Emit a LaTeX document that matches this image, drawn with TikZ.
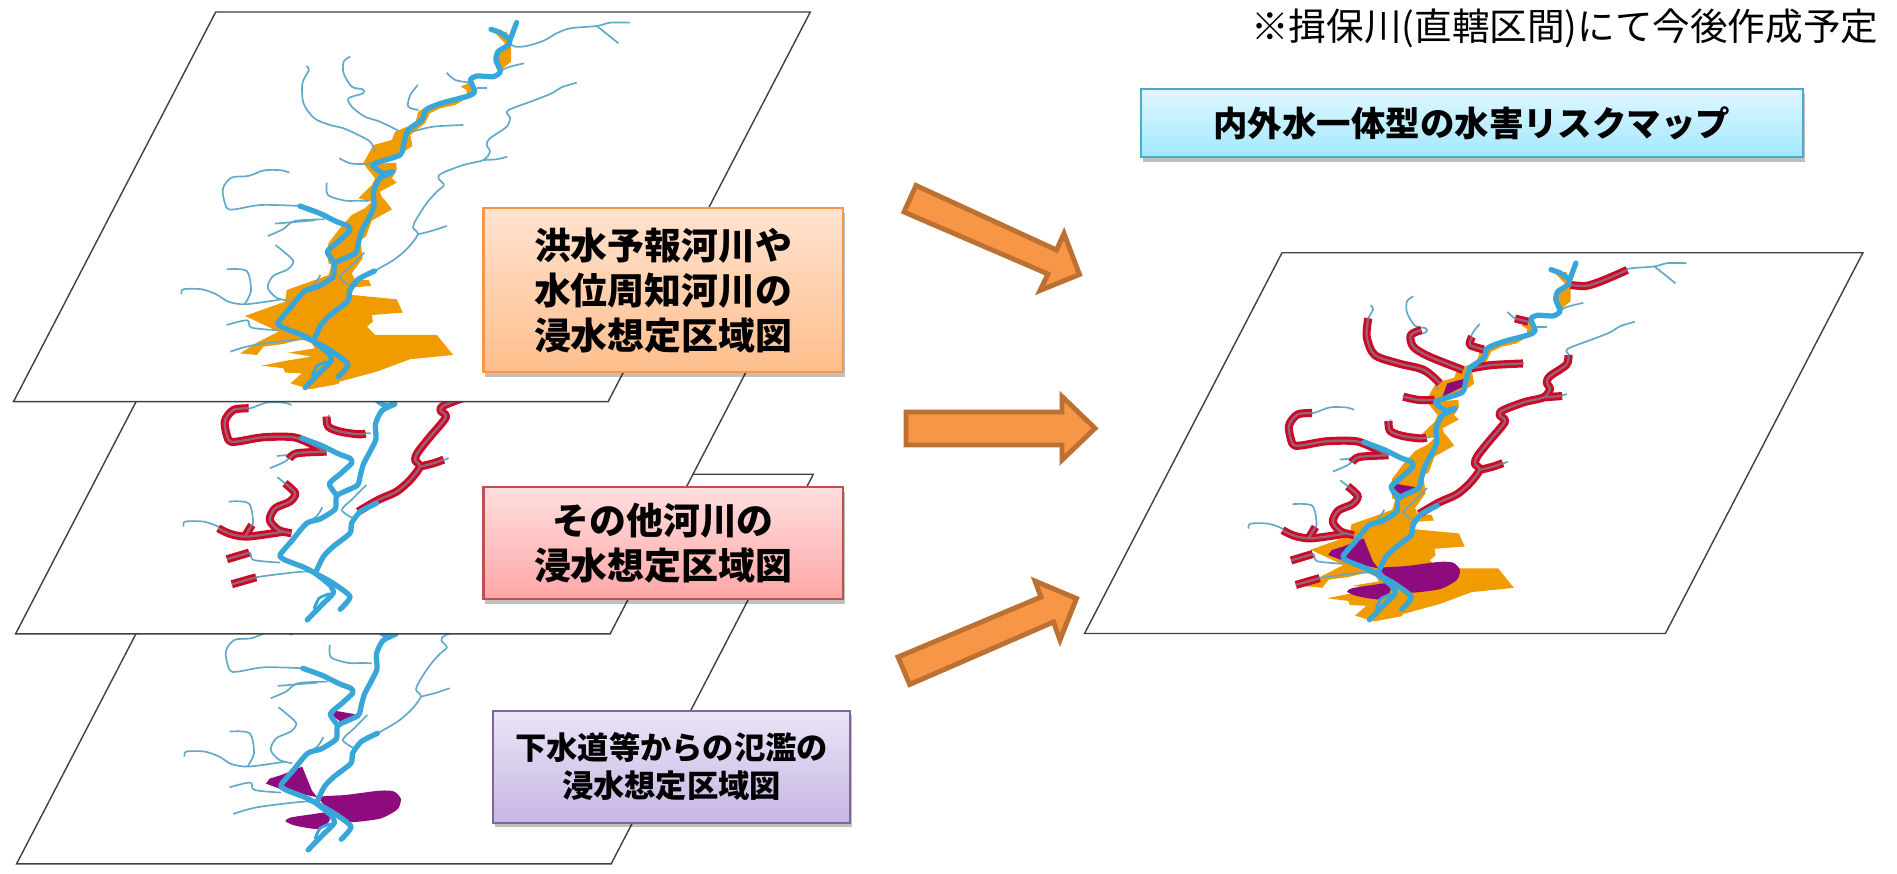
\documentclass[tikz,border=0pt]{standalone}
\usepackage{fontspec}
\setmainfont{Noto Sans CJK JP}
\usetikzlibrary{shadows}
\definecolor{riverblue}{HTML}{38A6D8}
\definecolor{thinblue}{HTML}{62A8CA}
\definecolor{floodorange}{HTML}{F09B00}
\definecolor{floodpurple}{HTML}{8E0B7E}
\definecolor{bankred}{HTML}{CC0A26}
\definecolor{bankcore}{HTML}{9A6078}
\definecolor{arrowfill}{HTML}{F79646}
\definecolor{arrowedge}{HTML}{BC7032}
\definecolor{orangetop}{HTML}{FFE3D0}
\definecolor{orangelow}{HTML}{FFBE8C}
\definecolor{redtop}{HTML}{FFDEDE}
\definecolor{redlow}{HTML}{FFA6A6}
\definecolor{rededge}{HTML}{C0504D}
\definecolor{purpletop}{HTML}{EBE5F6}
\definecolor{purplelow}{HTML}{C6B6E4}
\definecolor{purpleedge}{HTML}{8064A2}
\definecolor{bluetop}{HTML}{DFF7FF}
\definecolor{bluelow}{HTML}{A3E8FF}
\definecolor{blueedge}{HTML}{4BACC6}
\tikzset{
  layer/.style={xscale=0.542,yscale=0.3333},
  lastlayer/.style={xscale=0.5295,yscale=0.3257},
  sheet/.style={draw=black!75,fill=white,line width=.8pt},
  thickriver/.style={draw=riverblue,line width=3pt,line join=round,line cap=round},
  thinriver/.style={draw=thinblue,line width=.95pt,line join=round},
  redband/.style={draw=bankred,line width=4.6pt,line join=round},
  redcore/.style={draw=bankcore,line width=1.3pt,line join=round},
  flowarrow/.style={draw=arrowedge,fill=arrowfill,line width=2.8pt,miter limit=10},
  labelbox/.style={line width=1.2pt,align=center,font=\bfseries,inner sep=0pt,
    drop shadow={shadow xshift=1pt,shadow yshift=-2.5pt,fill=black,opacity=.25}},
  orangebox/.style={labelbox,draw=arrowfill,top color=orangetop,bottom color=orangelow,minimum width=7.19cm,minimum height=3.28cm},
  redbox/.style={labelbox,draw=rededge,top color=redtop,bottom color=redlow,minimum width=7.19cm,minimum height=2.24cm},
  purplebox/.style={labelbox,draw=purpleedge,top color=purpletop,bottom color=purplelow,minimum width=7.14cm,minimum height=2.24cm},
  bluebox/.style={labelbox,draw=blueedge,top color=bluetop,bottom color=bluelow,minimum width=13.24cm,minimum height=1.36cm}
}
\newcommand{\sheetframe}{\draw[sheet] (398,36)--(1495,36)--(1122,1205)--(25,1205)--cycle;}
\newcommand{\orangearea}{
  \fill[floodorange] (914,100)--(935,95)--(943,140)--(943,185)--(923,212)--(916,190)--(922,150)--(932,130)--cycle;
  \fill[floodorange] (850,260)--(866,248)--(880,275)--(864,292)--(840,315)--(812,325)--(793,340)--(784,370)--(757,405)--(761,438)--(741,460)--(692,492)--(731,488)--(732,510)--(723,535)--(732,548)--(701,575)--(704,590)--(710,600)--(723,628)--(686,662)--(675,710)--(665,720)--(669,775)--(649,820)--(655,840)--(680,840)--(685,858)--(652,862)--(649,885)--(732,898)--(738,920)--(743,938)--(686,945)--(688,965)--(677,980)--(692,1005)--(806,1005)--(836,1065)--(756,1078)--(695,1115)--(627,1145)--(624,1152)--(572,1168)--(536,1150)--(557,1120)--(526,1118)--(523,1105)--(483,1097)--(529,1082)--(575,1070)--(532,1058)--(581,1045)--(575,1030)--(557,1018)--(523,1032)--(486,1040)--(474,1065)--(443,1060)--(474,1028)--(514,995)--(452,948)--(526,905)--(529,870)--(590,835)--(606,825)--(612,795)--(606,790)--(604,750)--(606,730)--(627,685)--(649,645)--(673,625)--(686,605)--(661,595)--(686,555)--(692,535)--(683,517)--(670,490)--(689,435)--(723,420)--(729,395)--(766,370)--(772,335)--(787,320)--(821,305)--(861,285)--(861,270)--cycle;
}
\newcommand{\purplearea}{
  \fill[floodpurple] (615,746)--(650,756)--(625,782)--(608,759)--cycle;
  \fill[floodpurple] (552,913)--(570,985)--(580,1005)--(520,985)--(485,964)--(492,949)--(514,938)--cycle;
  \fill[floodpurple] plot[smooth cycle,tension=.4] coordinates {(583,1005) (633,998) (696,985) (722,988) (734,1010) (728,1041) (696,1069) (640,1080) (621,1066) (602,1041)};
  \fill[floodpurple] plot[smooth cycle,tension=.4] coordinates {(599,1051) (602,1077) (580,1100) (539,1090) (521,1077) (530,1066) (570,1056)};
}
\newcommand{\thinrivers}{
  \draw[thinriver] plot[smooth,tension=.5] coordinates {(1162,68) (1126,68) (1101,78) (1052,85) (1027,100) (1003,122) (972,138) (950,140) (941,130)};
  \draw[thinriver] plot[smooth,tension=.5] coordinates {(1101,78) (1122,105) (1141,130)};
  \draw[thinriver] plot[smooth,tension=.5] coordinates {(967,190) (941,200) (926,210)};
  \draw[thinriver] plot[smooth,tension=.5] coordinates {(824,218) (840,240) (868,248)};
  \draw[thinriver] plot[smooth,tension=.5] coordinates {(899,265) (880,265)};
  \draw[thinriver] plot[smooth,tension=.5] coordinates {(1064,248) (1036,262) (1018,280) (984,302) (941,328) (935,340) (941,352) (935,380) (904,415) (898,435) (904,455) (892,480) (855,495) (815,520) (809,535) (819,555) (806,575) (787,610) (768,658) (762,683) (771,703) (753,743) (728,778) (691,813)};
  \draw[thinriver] plot[smooth,tension=.5] coordinates {(936,470) (916,478) (892,480)};
  \draw[thinriver] plot[smooth,tension=.5] coordinates {(824,678) (796,693) (771,703)};
  \draw[thinriver] plot[smooth,tension=.5] coordinates {(565,198) (570,210) (558,250) (560,310) (580,355) (609,375) (634,385) (661,405) (683,425) (692,455)};
  \draw[thinriver] plot[smooth,tension=.5] coordinates {(646,170) (634,185) (634,220) (649,260) (669,268) (670,280) (643,295) (649,320) (673,350) (701,365) (735,392)};
  \draw[thinriver] plot[smooth,tension=.5] coordinates {(771,255) (757,285) (753,320) (772,330)};
  \draw[thinriver] plot[smooth,tension=.5] coordinates {(855,375) (800,380) (760,395)};
  \draw[thinriver] plot[smooth,tension=.5] coordinates {(534,518) (519,511) (488,511) (458,528) (427,533) (411,568) (418,623) (433,628) (482,615) (553,618)};
  \draw[thinriver] plot[smooth,tension=.5] coordinates {(626,475) (646,490) (670,492) (690,490)};
  \draw[thinriver] plot[smooth,tension=.5] coordinates {(603,548) (605,585) (637,602) (661,602) (680,603)};
  \draw[thinriver] plot[smooth,tension=.5] coordinates {(494,708) (522,688) (544,663) (599,658)};
  \draw[thinriver] plot[smooth,tension=.5] coordinates {(507,671) (581,661)};
  \draw[thinriver] plot[smooth,tension=.5] coordinates {(508,735) (522,753) (541,783) (531,808) (504,828) (494,863) (510,893) (534,903)};
  \draw[thinriver] plot[smooth,tension=.5] coordinates {(418,808) (455,813) (463,873) (451,913)};
  \draw[thinriver] plot[smooth,tension=.5] coordinates {(335,883) (338,868) (372,868) (399,883) (421,905) (451,913) (501,903) (519,898)};
  \draw[thinriver] plot[smooth,tension=.5] coordinates {(418,975) (456,961) (464,983) (513,991)};
  \draw[thinriver] plot[smooth,tension=.5] coordinates {(425,1055) (469,1035) (556,1018) (574,1025)};
  \draw[thinriver] plot[smooth,tension=.5] coordinates {(672,758) (648,798) (627,833) (648,858)};
  \draw[thinriver] plot[smooth,tension=.5] coordinates {(591,825) (581,851) (562,873)};
}
\newcommand{\redlines}[1]{
  \draw[#1] plot[smooth,tension=.5] coordinates {(1050,89) (1003,122) (972,138) (943,135)}
    plot[smooth,tension=.5] coordinates {(838,238) (863,248)}
    plot[smooth,tension=.5] coordinates {(757,294) (753,319) (779,333)}
    plot[smooth,tension=.5] coordinates {(661,273) (641,289) (646,325) (676,355) (740,396)}
    plot[smooth,tension=.5] coordinates {(561,237) (558,294) (573,350) (618,376) (666,396) (696,437)}
    plot[smooth,tension=.5] coordinates {(755,391) (794,381) (853,376)}
    plot[smooth,tension=.5] coordinates {(939,350) (935,380) (904,415) (898,435) (904,455) (892,480) (855,495) (815,520) (809,535) (819,555) (790,613) (768,658) (762,683) (771,703) (753,743) (728,778) (694,803) (657,838)}
    plot[smooth,tension=.5] coordinates {(771,703) (796,693) (815,682)}
    plot[smooth,tension=.5] coordinates {(892,480) (927,476)}
    plot[smooth,tension=.5] coordinates {(455,528) (427,533) (411,568) (418,623) (433,628) (482,615) (538,615) (574,638) (596,658)}
    plot[smooth,tension=.5] coordinates {(530,680) (544,663) (599,658)}
    plot[smooth,tension=.5] coordinates {(599,553) (602,583) (624,598) (657,606) (671,604)}
    plot[smooth,tension=.5] coordinates {(627,478) (656,488) (686,488)}
    plot[smooth,tension=.5] coordinates {(522,753) (541,783) (531,808) (504,828) (494,863) (510,893) (534,903)}
    plot[smooth,tension=.5] coordinates {(399,888) (421,905) (451,913) (501,903) (519,898)}
    plot[smooth,tension=.5] coordinates {(461,878) (448,913)}
    plot[smooth,tension=.5] coordinates {(415,981) (456,961)}
    plot[smooth,tension=.5] coordinates {(424,1056) (469,1035)};
}
\newcommand{\thickrivers}{
  \draw[thickriver] plot[smooth,tension=.4] coordinates {(953,68) (941,120) (938,135) (919,155) (915,180) (923,215) (910,230) (880,228) (868,240) (876,275) (864,288) (818,308) (787,328) (778,360) (753,390) (745,430) (738,465) (692,490) (689,500) (707,520) (725,515) (701,535) (689,575) (690,620) (680,655) (667,695) (661,730) (655,760) (618,790) (615,830) (587,860) (562,873) (535,925) (513,968) (522,983) (557,1005) (578,1023) (611,1053) (642,1093) (624,1131)};
  \draw[thickriver] plot[smooth,tension=.4] coordinates {(578,1023) (606,1060) (611,1083) (593,1113) (563,1163)};
  \draw[thickriver,line width=1.6pt] plot[smooth,tension=.4] coordinates {(603,1085) (585,1098) (576,1128)};
  \draw[thickriver] plot[smooth,tension=.4] coordinates {(553,618) (590,640) (621,665) (642,678) (645,693) (624,725) (604,755) (618,790)};
  \draw[thickriver] plot[smooth,tension=.4] coordinates {(906,88) (923,98) (938,115)};
  \draw[thickriver] plot[smooth,tension=.4] coordinates {(691,813) (661,838) (645,873) (642,903) (611,943) (593,973) (578,1023)};
}
\begin{document}
\begin{tikzpicture}[x=0.02cm,y=-0.02cm]
  \useasboundingbox (0,0) rectangle (1897,874);
  \begin{scope}[shift={(3,462.3)},layer]
    \sheetframe
    \purplearea
    \thinrivers
    \thickrivers
  \end{scope}
  \begin{scope}[shift={(2,232.3)},layer]
    \sheetframe
    \thinrivers
    \redlines{redband}
    \redlines{redcore}
    \thickrivers
  \end{scope}
  \begin{scope}[layer]
    \sheetframe
    \orangearea
    \thinrivers
    \thickrivers
  \end{scope}
  \begin{scope}[shift={(1071.3,241)},lastlayer]
    \sheetframe
    \orangearea
    \purplearea
    \fill[floodpurple] (745,422)--(740,447)--(701,478)--(710,437)--cycle;
    \thinrivers
    \redlines{redband}
    \redlines{redcore}
    \thickrivers
  \end{scope}
  \node[orangebox,font=\bfseries\fontsize{21}{25.6}\selectfont] (floodbox) at (663.2,290.3) {洪水予報河川や\\水位周知河川の\\浸水想定区域図};
  \node[redbox,font=\bfseries\fontsize{21}{25.6}\selectfont] (otherbox) at (663.2,543.3) {その他河川の\\浸水想定区域図};
  \node[purplebox,font=\bfseries\fontsize{17.8}{21.7}\selectfont] (sewerbox) at (671.6,766.7) {下水道等からの氾濫の\\浸水想定区域図};
  \node[bluebox,font=\bfseries\fontsize{19.6}{24}\selectfont] (mapbox) at (1471.8,123.3) {内外水一体型の水害リスクマップ};
  \node[anchor=east,inner sep=0pt,font=\fontsize{21.4}{25}\selectfont] (notetext) at (1878.7,28) {※揖保川(直轄区間)にて今後作成予定};
  \draw[flowarrow] (916,185.5)--(904,212)--(1048,274)--(1040,290.5)--(1079.5,274.5)--(1064,233.5)--(1056.5,250)--cycle;
  \draw[flowarrow] (906,412)--(1062,412)--(1062,396.5)--(1095,428.3)--(1062,460)--(1062,445)--(906,445)--cycle;
  \draw[flowarrow] (898,657)--(909.7,684.5)--(1053.5,622)--(1060,640)--(1076.5,598.5)--(1035,581)--(1041,597)--cycle;
\end{tikzpicture}
\end{document}
